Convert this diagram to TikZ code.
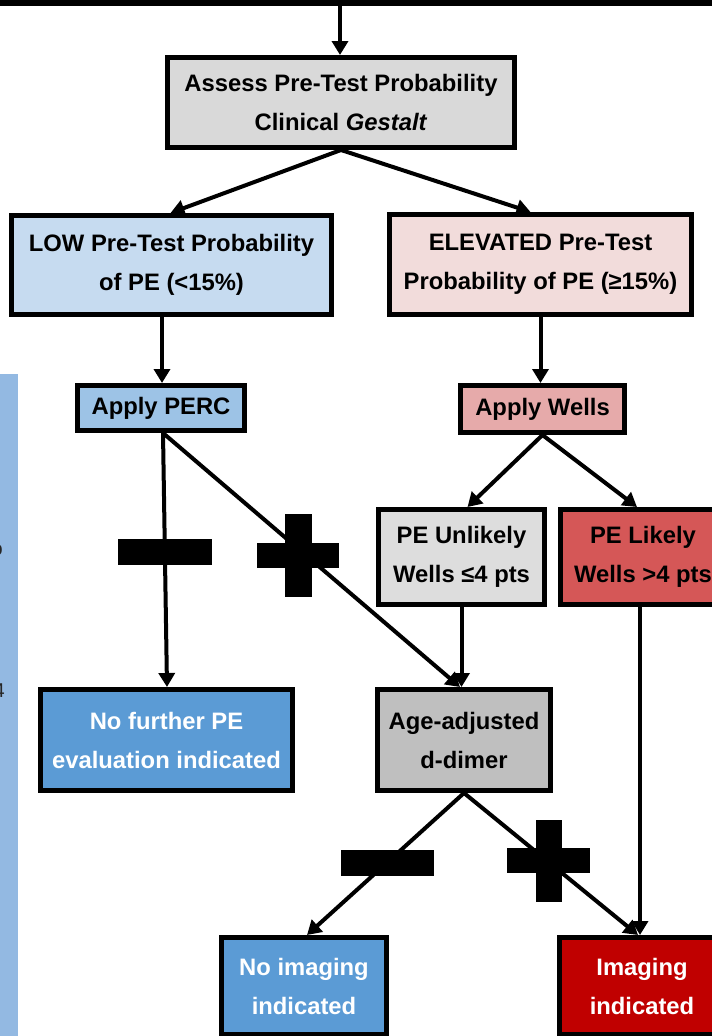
\documentclass[tikz,border=0pt]{standalone}
\usepackage{fontspec}
\setmainfont{Liberation Sans}
\usetikzlibrary{arrows.meta}
\definecolor{cassess}{HTML}{D9D9D9}
\definecolor{clow}{HTML}{C6DBF0}
\definecolor{cperc}{HTML}{9DC3E6}
\definecolor{celev}{HTML}{F2DCDB}
\definecolor{cwells}{HTML}{E6AAAA}
\definecolor{cunl}{HTML}{DDDDDD}
\definecolor{clik}{HTML}{D55757}
\definecolor{cblue}{HTML}{5B9BD5}
\definecolor{cage}{HTML}{BFBFBF}
\definecolor{cimg}{HTML}{C00000}
\definecolor{cstrip}{HTML}{93B9E2}
\begin{document}
\begin{tikzpicture}[x=1pt,y=-1pt,
  box/.style={draw=black,line width=5pt,inner sep=0pt,align=center,
    font=\fontsize{23.8}{39}\selectfont\bfseries},
  arr/.style={line width=4pt,-{Triangle[width=16pt,length=14pt]}},
  sign/.style={fill=black}]
\useasboundingbox (0,0) rectangle (712,1036);
\clip (0,0) rectangle (712,1036);
\fill[white] (0,0) rectangle (712,1036);
% left strip with cut-off text
\fill[cstrip] (0,374) rectangle (18,1040);
\node[anchor=east,inner sep=0pt,font=\fontsize{20}{24}\selectfont,text=black!85] (fragA) at (3,550) {o};
\node[anchor=east,inner sep=0pt,font=\fontsize{20}{24}\selectfont,text=black!85] (fragB) at (5,691) {4};
% top bar
\fill[black] (-5,-5) rectangle (717,5.5);
\coordinate (top) at (340,5);

\node[box,fill=cassess,minimum width=347,minimum height=90] (assess) at (341,102.5)
  {Assess Pre-Test Probability\\Clinical \textit{Gestalt}};
\node[box,fill=clow,minimum width=320,minimum height=99] (low) at (171.5,265)
  {LOW Pre-Test Probability\\of PE (<15\%)};
\node[box,fill=celev,minimum width=302,minimum height=100] (elev) at (540.5,264.5)
  {ELEVATED Pre-Test\\Probability of PE (≥15\%)};
\node[box,fill=cperc,minimum width=167,minimum height=45] (perc) at (161,408) {Apply PERC};
\node[box,fill=cwells,minimum width=164,minimum height=47] (wells) at (542.5,409) {Apply Wells};
\node[box,fill=cunl,minimum width=166,minimum height=95] (unl) at (461.5,557)
  {PE Unlikely\\Wells ≤4 pts};
\node[box,fill=clik,minimum width=166,minimum height=95] (lik) at (643,557)
  {PE Likely\\Wells >4 pts};
\node[box,fill=cblue,text=white,minimum width=252,minimum height=101] (nofur) at (166.5,740)
  {No further PE\\evaluation indicated};
\node[box,fill=cage,minimum width=173,minimum height=101] (age) at (464,740)
  {Age-adjusted\\d-dimer};
\node[box,fill=cblue,text=white,minimum width=165,minimum height=97] (noimg) at (304,986)
  {No imaging\\indicated};
\node[box,fill=cimg,text=white,minimum width=166,minimum height=97] (img) at (642,986)
  {Imaging\\indicated};

% connectors
\draw[arr] (top) -- ([xshift=-1]assess.north);
\draw[arr] (assess.south) -- ([xshift=-1]low.north);
\draw[arr] (assess.south) -- ([xshift=-10]elev.north);
\draw[arr] ([xshift=1]perc.north |- low.south) -- ([xshift=1]perc.north);
\draw[arr] (elev.south) -- ([xshift=-2]wells.north);
\draw[arr] ([xshift=2]perc.south) -- ([xshift=0.5]nofur.north);
\draw[arr] ([xshift=2]perc.south) -- ([xshift=-4]age.north);
\draw[arr] (wells.south) -- ([xshift=6]unl.north);
\draw[arr] (wells.south) -- ([xshift=-6]lik.north);
\draw[arr] (unl.south) -- (unl.south |- age.north);
\draw[arr] ([xshift=-3]lik.south) -- ([xshift=-3]lik.south |- img.north);
\draw[arr] (age.south) -- ([xshift=3]noimg.north);
\draw[arr] (age.south) -- ([xshift=-4]img.north);

% minus and plus signs
\fill[sign] (118,539) rectangle (212,565);
\fill[sign] (257,543) rectangle (339,568);
\fill[sign] (285,514) rectangle (312,597);
\fill[sign] (341,850) rectangle (434,876);
\fill[sign] (507,848) rectangle (590,873);
\fill[sign] (536,820) rectangle (562,902);
\end{tikzpicture}
\end{document}
